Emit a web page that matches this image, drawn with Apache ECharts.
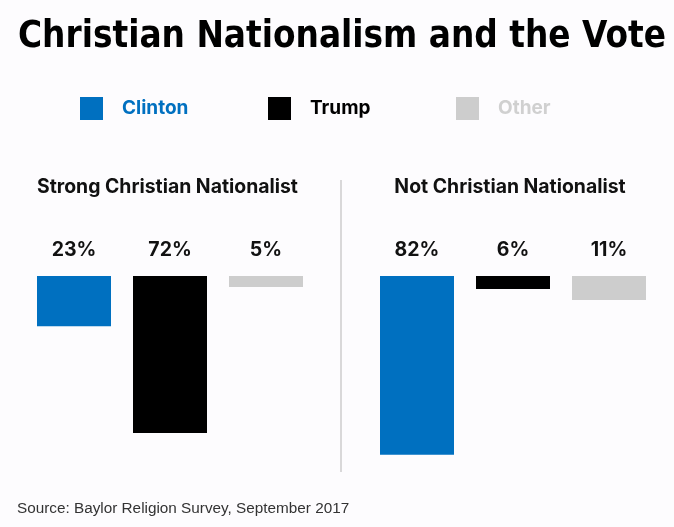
<!DOCTYPE html>
<html>
<head>
<meta charset="utf-8">
<script src="https://cdn.jsdelivr.net/npm/echarts@6/dist/echarts.min.js"></script>
<style>html,body{margin:0;padding:0;background:#fdfcfe;}#c{width:674px;height:527px;}</style>
</head>
<body>
<div id="c"></div>
<script>
var parties = ['Clinton', 'Trump', 'Other'];
var panels = ['Strong Christian Nationalist', 'Not Christian Nationalist'];
var strongValues = [23, 72, 5];
var notValues = [82, 6, 11];
var colors = ['#0070c0', '#000000', '#cdcdcd'];
var legendTextColors = ['#0070c0', '#000000', '#d0d0d0'];

var chart = echarts.init(document.getElementById('c'));
var panelData = [strongValues, notValues];
var series = [];
panelData.forEach(function (vals, g) {
  parties.forEach(function (p, i) {
    var d = parties.map(function (_, j) { return j === i ? vals[j] : '-'; });
    series.push({
      name: p, type: 'bar', stack: 'g' + g, xAxisIndex: g, yAxisIndex: g,
      barWidth: 74, data: d,
      itemStyle: { color: colors[i] },
      label: { show: true, position: 'top', distance: 16, formatter: '{c}%',
               fontFamily: 'Inter', fontWeight: 'bold', fontSize: 19.5, color: '#111' },
      silent: true
    });
  });
});
var legendLefts = [80, 268, 456];
var legends = parties.map(function (p, i) {
  return { data: [p], left: legendLefts[i], top: 97, itemWidth: 23, itemHeight: 23, icon: 'rect',
           selectedMode: false, padding: 0,
           textStyle: { color: legendTextColors[i], fontFamily: 'Inter', fontWeight: 'bold', fontSize: 19, padding: [0, 0, 0, 14] },
           itemStyle: { color: colors[i] } };
});
chart.setOption({
  backgroundColor: '#fdfcfe',
  animation: false,
  title: [
    { text: 'Christian Nationalism and the Vote', left: 18, top: 19, padding: 0,
      textStyle: { fontFamily: 'DejaVu Sans Condensed', fontWeight: 'bold', fontSize: 36.5, color: '#000' } },
    { text: panels[0], left: 37, top: 178, padding: 0,
      textStyle: { fontFamily: 'Inter', fontWeight: 'bold', fontSize: 19.4, color: '#111' } },
    { text: panels[1], left: 510, textAlign: 'center', top: 178, padding: 0,
      textStyle: { fontFamily: 'Inter', fontWeight: 'bold', fontSize: 19.4, color: '#111' } },
    { text: 'Source: Baylor Religion Survey, September 2017', left: 17, top: 501, padding: 0,
      textStyle: { fontFamily: 'Liberation Sans', fontWeight: 'normal', fontSize: 15.3, color: '#333' } }
  ],
  legend: legends,
  grid: [
    { left: 26, width: 288, top: 276, height: 218 },
    { left: 369, width: 288, top: 276, height: 218 }
  ],
  xAxis: [0, 1].map(function (g) {
    return { type: 'category', gridIndex: g, data: parties, show: false };
  }),
  yAxis: [0, 1].map(function (g) {
    return { type: 'value', gridIndex: g, min: 0, max: 100, inverse: true, show: false };
  }),
  graphic: [
    { type: 'line', shape: { x1: 341, y1: 180, x2: 341, y2: 472 }, style: { stroke: '#cccccc', lineWidth: 1.5 } }
  ],
  series: series
});
</script>
</body>
</html>
